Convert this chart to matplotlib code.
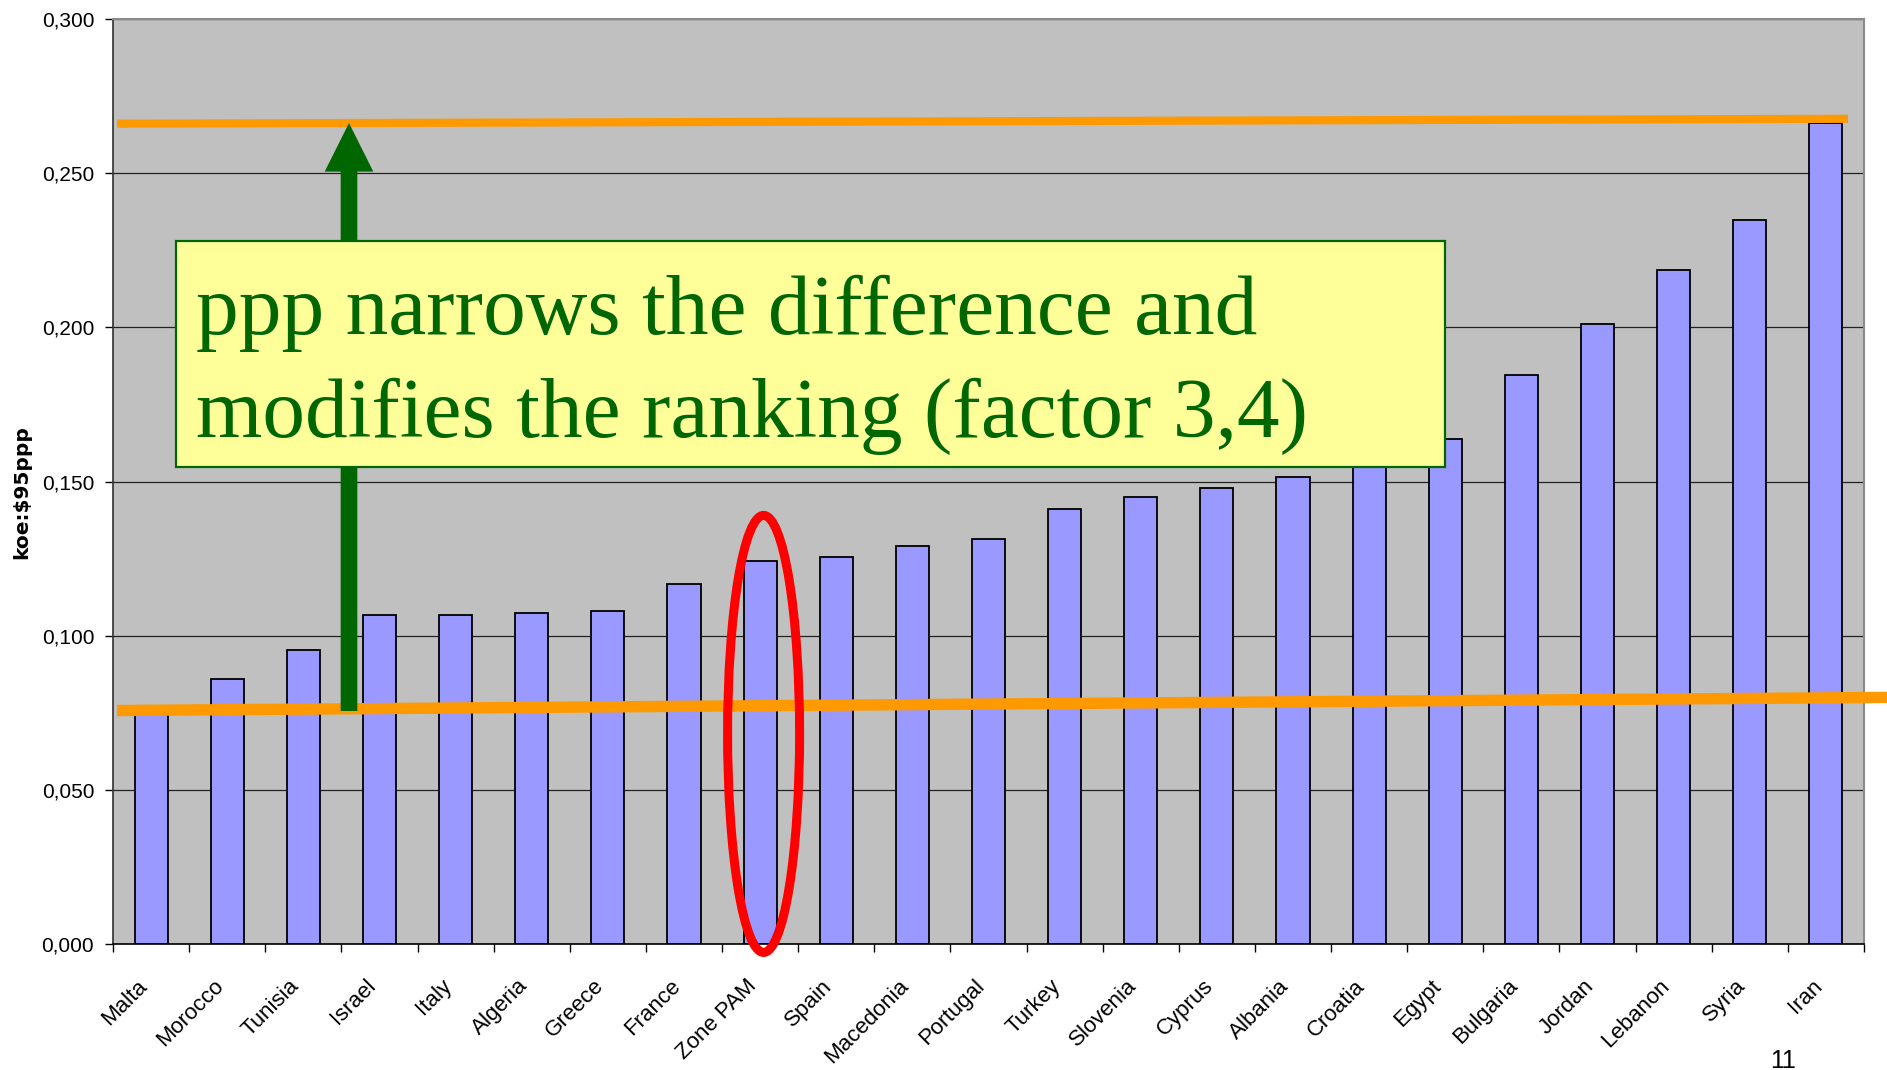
import numpy as np
import matplotlib
matplotlib.use("Agg")
import matplotlib.pyplot as plt
from matplotlib.patches import Ellipse, Rectangle
from matplotlib.transforms import ScaledTranslation

# ---- data ----
countries = ["Malta", "Morocco", "Tunisia", "Israel", "Italy", "Algeria", "Greece",
             "France", "Zone PAM", "Spain", "Macedonia", "Portugal", "Turkey",
             "Slovenia", "Cyprus", "Albania", "Croatia", "Egypt", "Bulgaria",
             "Jordan", "Lebanon", "Syria", "Iran"]
values = [0.075, 0.0858, 0.0952, 0.1068, 0.1068, 0.1075, 0.1081,
          0.1168, 0.1241, 0.1254, 0.1291, 0.1312, 0.1412,
          0.1450, 0.1478, 0.1514, 0.1570, 0.1637, 0.1845,
          0.2011, 0.2185, 0.2349, 0.2664]
yticks = [0.0, 0.05, 0.10, 0.15, 0.20, 0.25, 0.30]
yticklabels = ["0,000", "0,050", "0,100", "0,150", "0,200", "0,250", "0,300"]
ylabel = "koe:$95ppp"
note_line1 = "ppp narrows the difference and"
note_line2 = "modifies the ranking (factor 3,4)"
page_number = "11"

W, H = 1887, 1070
fig = plt.figure(figsize=(W / 100, H / 100), dpi=100)
fig.patch.set_facecolor("white")
L, R, T, B = 113, 1864, 19, 944
ax = fig.add_axes([L / W, 1 - B / H, (R - L) / W, (B - T) / H])
ax.set_facecolor("#C0C0C0")

n = len(countries)
x = np.arange(n)
ax.bar(x, values, width=0.435, color="#9999FF", edgecolor="black", linewidth=1.3, zorder=2)

ax.set_xlim(-0.5, n - 0.5)
ax.set_ylim(0, 0.3)

# y axis
ax.set_yticks(yticks)
ax.set_yticklabels(yticklabels, fontsize=15, family="Liberation Sans")
ax.tick_params(axis="y", length=6, width=1, direction="out", pad=7.5, color="black")
ax.yaxis.grid(True, color="#222222", linewidth=0.9, zorder=1)
ax.set_axisbelow(True)
ax.set_ylabel(ylabel, fontsize=14.5, fontweight="bold", family="DejaVu Sans")
ax.yaxis.set_label_coords((22 - L) / (R - L), (B - 492) / (B - T))
ax.yaxis.label.set_va("center")

# x axis
ax.set_xticks(x)
ax.set_xticklabels(countries, rotation=45, ha="right", va="center",
                   rotation_mode="anchor", fontsize=16, family="Liberation Sans")
ax.tick_params(axis="x", which="major", length=0, pad=28)
ax.set_xticks(np.arange(-0.5, n, 1), minor=True)
ax.tick_params(axis="x", which="minor", length=6, width=1, direction="out", color="black")
off = ScaledTranslation(-7 / 100, 0, fig.dpi_scale_trans)
for lab in ax.get_xticklabels():
    lab.set_transform(lab.get_transform() + off)

for s in ["top", "right"]:
    ax.spines[s].set_color("#8A8A8A")
    ax.spines[s].set_linewidth(1.5)
ax.spines["left"].set_color("#303030")
ax.spines["bottom"].set_color("black")
ax.spines["left"].set_linewidth(1.2)
ax.spines["bottom"].set_linewidth(1.2)

def fx(px):
    return (px - L) / (R - L)

def fy(py):
    return (B - py) / (B - T)

# orange reference lines
ax.plot([fx(117), fx(1848)], [fy(123.7), fy(118.8)], color="#FF9900", lw=5.9,
        transform=ax.transAxes, clip_on=False, zorder=4, solid_capstyle="butt")
ax.plot([fx(117), fx(1887)], [fy(710.5), fy(697.4)], color="#FF9900", lw=8.2,
        transform=ax.transAxes, clip_on=False, zorder=4, solid_capstyle="butt")

# green arrow
ax.annotate("", xy=(fx(349), fy(123)), xytext=(fx(349), fy(711)),
            xycoords="axes fraction", textcoords="axes fraction",
            arrowprops=dict(arrowstyle="simple,head_length=35,head_width=35,tail_width=12",
                            color="#006600", shrinkA=0, shrinkB=0, mutation_scale=1,
                            lw=0),
            zorder=5, annotation_clip=False)

# yellow note box
box = Rectangle((fx(176), fy(467)), fx(1445) - fx(176), fy(241) - fy(467),
                transform=ax.transAxes, facecolor="#FFFF99", edgecolor="#006600",
                linewidth=1.6, zorder=6, clip_on=False)
ax.add_patch(box)
ax.text(fx(196), fy(334), note_line1, transform=ax.transAxes, fontsize=61.5,
        family="Liberation Serif", color="#006600", ha="left", va="baseline", zorder=7)
ax.text(fx(196), fy(436.5), note_line2, transform=ax.transAxes, fontsize=61.5,
        family="Liberation Serif", color="#006600", ha="left", va="baseline", zorder=7)

# red ellipse around Zone PAM
ell = Ellipse((fx(763.6), fy(733.9)), fx(763.6 + 72) - fx(763.6), fy(733.9 - 437) - fy(733.9),
              transform=ax.transAxes, fill=False, edgecolor="#FF0000", linewidth=6.5,
              zorder=8, clip_on=False)
ax.add_patch(ell)

fig.text(1783 / W, 1 - 1068 / H, page_number, fontsize=18, family="Liberation Sans",
         ha="center", va="baseline")

fig.savefig("out.png", dpi=100)
